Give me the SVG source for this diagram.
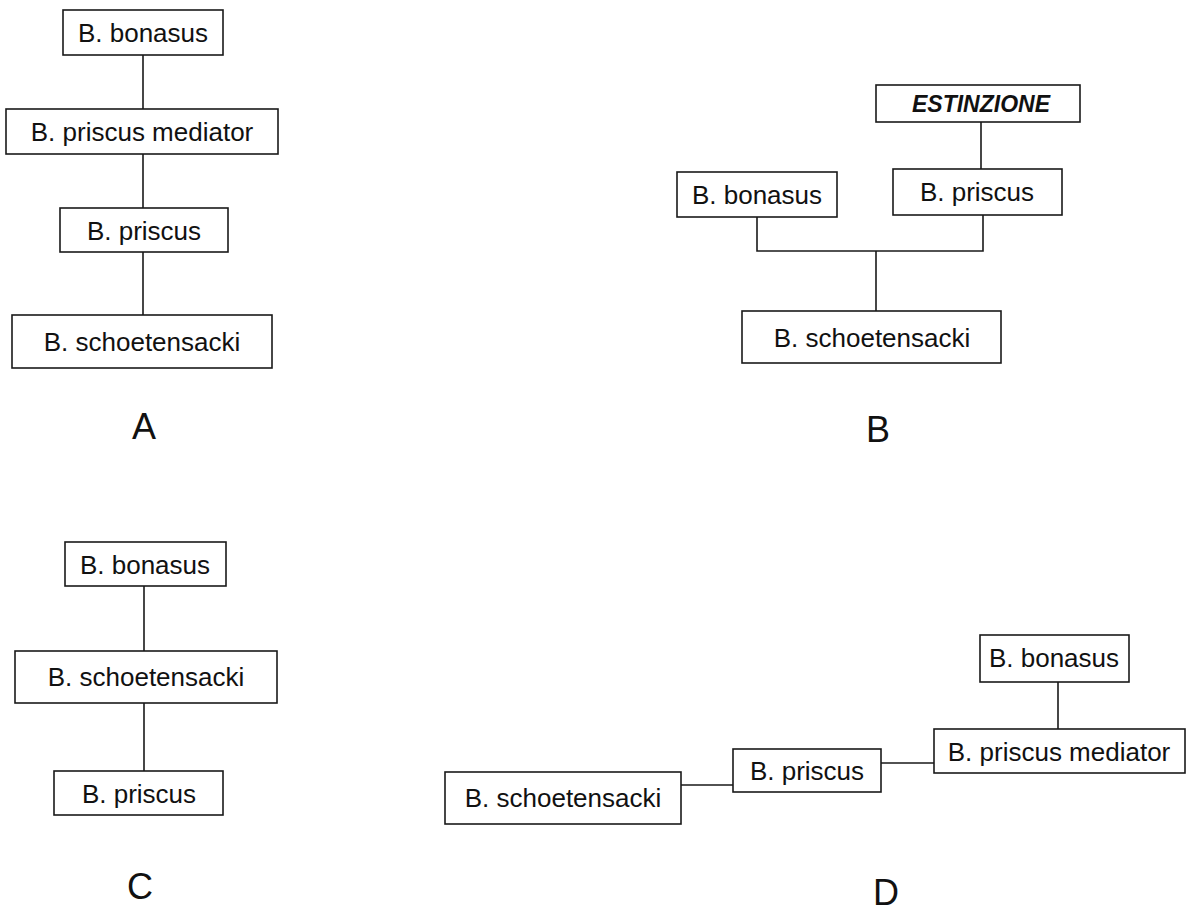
<svg xmlns="http://www.w3.org/2000/svg" width="1192" height="914" viewBox="0 0 1192 914">
<style>
rect{fill:#fff;stroke:#1a1a1a;stroke-width:1.6}
text{font-family:"Liberation Sans",Arial,sans-serif;font-size:26px;fill:#111;text-anchor:middle}
.em{font-weight:bold;font-style:italic;font-size:23px}
.lab{font-size:36px}
#connectors path{fill:none;stroke:#1a1a1a;stroke-width:1.6}
</style>
<rect x="0" y="0" width="1192" height="914" style="stroke:none"/>
<g id="connectors">
<path d="M143 55V109M143 154V208M143 252V315"/>
<path d="M981 122V169M757 217V251H983V215M876 251V311"/>
<path d="M144 586V651M144 703V771"/>
<path d="M681 785H733M881 763H934M1058 682V729"/>
</g>
<g id="A-bonasus"><rect x="63" y="10" width="160" height="45"/><text x="143" y="42">B. bonasus</text></g>
<g id="A-mediator"><rect x="6" y="109" width="272" height="45"/><text x="142" y="141">B. priscus mediator</text></g>
<g id="A-priscus"><rect x="60" y="208" width="168" height="44"/><text x="144" y="240">B. priscus</text></g>
<g id="A-schoetensacki"><rect x="12" y="315" width="260" height="53"/><text x="142" y="351">B. schoetensacki</text></g>
<g id="B-estinzione"><rect x="876" y="85" width="204" height="37"/><text class="em" x="981" y="112">ESTINZIONE</text></g>
<g id="B-bonasus"><rect x="677" y="172" width="160" height="45"/><text x="757" y="204">B. bonasus</text></g>
<g id="B-priscus"><rect x="893" y="169" width="169" height="46"/><text x="977" y="201">B. priscus</text></g>
<g id="B-schoetensacki"><rect x="742" y="311" width="259" height="52"/><text x="872" y="347">B. schoetensacki</text></g>
<g id="C-bonasus"><rect x="65" y="542" width="161" height="44"/><text x="145" y="574">B. bonasus</text></g>
<g id="C-schoetensacki"><rect x="15" y="651" width="262" height="52"/><text x="146" y="686">B. schoetensacki</text></g>
<g id="C-priscus"><rect x="54" y="771" width="169" height="44"/><text x="139" y="803">B. priscus</text></g>
<g id="D-schoetensacki"><rect x="445" y="772" width="236" height="52"/><text x="563" y="807">B. schoetensacki</text></g>
<g id="D-priscus"><rect x="733" y="749" width="148" height="43"/><text x="807" y="780">B. priscus</text></g>
<g id="D-mediator"><rect x="934" y="729" width="251" height="44"/><text x="1059" y="761">B. priscus mediator</text></g>
<g id="D-bonasus"><rect x="980" y="635" width="149" height="47"/><text x="1054" y="667">B. bonasus</text></g>
<g id="labels">
<text class="lab" x="144" y="439">A</text>
<text class="lab" x="878" y="442">B</text>
<text class="lab" x="140" y="899">C</text>
<text class="lab" x="886" y="905">D</text>
</g>
</svg>
